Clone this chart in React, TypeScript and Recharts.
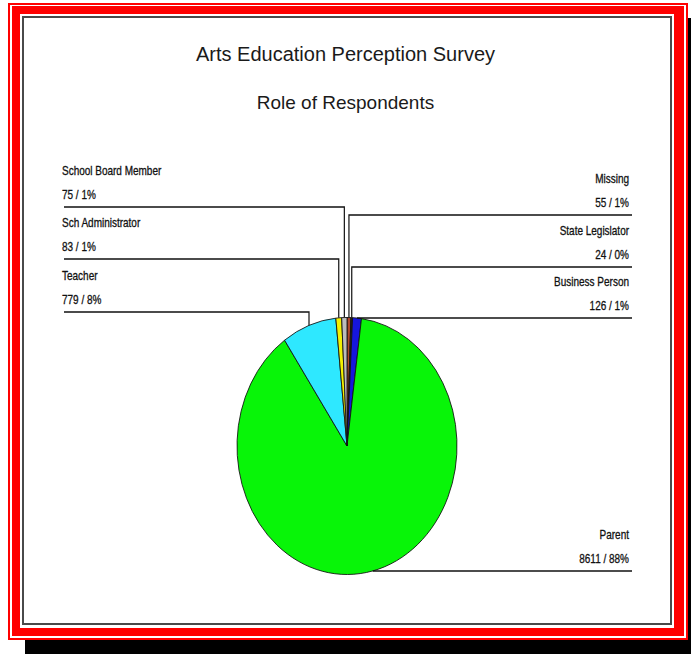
import React from 'react';
import { PieChart, Pie, Cell } from 'recharts';

// slices, clockwise from 12 o'clock
const roles = ['Missing', 'State Legislator', 'Business Person', 'Parent', 'Teacher', 'Sch Administrator', 'School Board Member'];
const counts = [55, 24, 126, 8611, 779, 83, 75];
const colors = ['#b0462c', '#2a2418', '#1616dc', '#08f508', '#2ee8ff', '#f2f000', '#bcbcbc'];

// where each label sits: side of the chart and y of its leader line (null = level with the slice)
const labelSide = ['right', 'right', 'right', 'right', 'left', 'left', 'left'];
const labelLineY: (number | null)[] = [215, 267, null, null, 312, 259, 207];

const W = 691;
const H = 654;
const CX = 347;
const CY = 446;
const RX = 110; // horizontal radius
const K = 128.5 / RX; // the pie is drawn as an upright ellipse

const data = roles.map((name, i) => ({ name, value: counts[i] }));

const labelFont = {
  fontFamily: '"Liberation Sans", Arial, sans-serif',
  fontSize: 12.5,
  fill: '#111',
  stroke: '#111',
  strokeWidth: 0.3,
};

const renderLabel = (p: any) => {
  const { cx, cy, midAngle, outerRadius, index, value, percent } = p;
  const rad = (-midAngle * Math.PI) / 180;
  const px = cx + outerRadius * Math.cos(rad);
  const py = cy + outerRadius * Math.sin(rad);
  const toSvgY = (y: number) => cy + (y - cy) / K;
  const toPageY = (y: number) => cy + (y - cy) * K;
  const slot = labelLineY[index];
  const lineY = slot == null ? py : toSvgY(slot);
  const lineReal = slot == null ? toPageY(py) : slot;
  const right = labelSide[index] === 'right';
  const edge = right ? 632 : 64;
  const tx = right ? 629 : 62;
  const anchor = right ? 'end' : 'start';
  const txt = (s: string, dy: number) => (
    <text
      transform={`translate(${tx},${toSvgY(lineReal - dy)}) scale(0.8,${1 / K})`}
      x={0}
      y={0}
      textAnchor={anchor}
      {...labelFont}
    >
      {s}
    </text>
  );
  return (
    <g key={`lbl-${index}`}>
      <path d={`M${px},${py}V${lineY}H${edge}`} fill="none" stroke="#111" strokeWidth={1.2} />
      {txt(roles[index], 32)}
      {txt(`${value} / ${Math.round(percent * 100)}%`, 8)}
    </g>
  );
};

const box = (left: number, top: number, right: number, bottom: number, bg: string) => (
  <div style={{ position: 'absolute', left, top, width: right - left, height: bottom - top, background: bg }} />
);

const titleStyle: React.CSSProperties = {
  position: 'absolute',
  left: 0,
  width: W,
  textAlign: 'center',
  fontFamily: '"Liberation Sans", Arial, sans-serif',
  color: '#1a1a1a',
  lineHeight: 1,
};

export default function App() {
  return (
    <div style={{ position: 'relative', width: W, height: H, overflow: 'hidden', background: '#fff' }}>
      <style>{'body{margin:0}'}</style>
      {/* frame */}
      {box(25, 18, 691, 654, '#000')}
      {box(8, 3, 688, 640, '#ff0000')}
      {box(10, 5, 686, 638, '#fff')}
      {box(12, 6, 684, 636, '#ff0000')}
      {box(20, 14, 674, 628, '#fff')}
      {box(22, 16, 672, 625, '#4a4a4a')}
      {box(24, 18, 670, 623, '#fff')}

      <div style={{ ...titleStyle, top: 44, fontSize: 20 }}>Arts Education Perception Survey</div>
      <div style={{ ...titleStyle, top: 93, fontSize: 19 }}>Role of Respondents</div>

      <div
        style={{
          position: 'absolute',
          left: 0,
          top: 0,
          width: W,
          height: H,
          transform: `scaleY(${K})`,
          transformOrigin: `0px ${CY}px`,
        }}
      >
        <PieChart width={W} height={H} margin={{ top: 0, right: 0, bottom: 0, left: 0 }}>
          <Pie
            data={data}
            dataKey="value"
            nameKey="name"
            cx={CX}
            cy={CY}
            outerRadius={RX}
            startAngle={90}
            endAngle={-270}
            stroke="#111"
            strokeWidth={0.8}
            label={renderLabel}
            labelLine={false}
            isAnimationActive={false}
          >
            {data.map((d, i) => (
              <Cell key={d.name} fill={colors[i]} />
            ))}
          </Pie>
        </PieChart>
      </div>
    </div>
  );
}
